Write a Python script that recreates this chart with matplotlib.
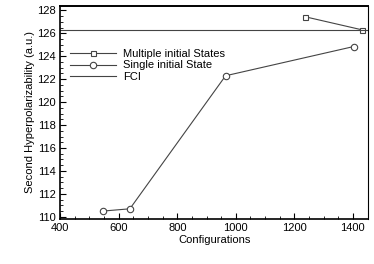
import matplotlib
matplotlib.use("Agg")
import matplotlib.pyplot as plt
from matplotlib.ticker import MultipleLocator

# data
single_x = [545, 638, 965, 1403]
single_y = [110.5, 110.7, 122.3, 124.85]
multi_x = [1236, 1432]
multi_y = [127.45, 126.3]
fci = 126.3

plt.rcParams["font.family"] = ["Liberation Sans", "DejaVu Sans"]
plt.rcParams["font.size"] = 8

fig = plt.figure(figsize=(3.74, 2.64), dpi=100)
ax = fig.add_axes([0.161, 0.170, 0.824, 0.808])

lc = "#444444"
ax.plot(multi_x, multi_y, color=lc, lw=0.8, marker="s", ms=3.6,
        mfc="white", mec=lc, mew=0.8, label="Multiple initial States")
ax.plot(single_x, single_y, color=lc, lw=0.8, marker="o", ms=4.6,
        mfc="white", mec=lc, mew=0.8, label="Single initial State")
ax.axhline(fci, color=lc, lw=0.8, label="FCI")

ax.set_xlim(400, 1453)
ax.set_ylim(109.8, 128.4)
ax.xaxis.set_major_locator(MultipleLocator(200))
ax.xaxis.set_minor_locator(MultipleLocator(50))
ax.yaxis.set_major_locator(MultipleLocator(2))
ax.yaxis.set_minor_locator(MultipleLocator(0.5))
ax.tick_params(which="both", direction="in", top=False, right=False)
ax.tick_params(which="major", length=4, width=0.8, pad=3)
ax.tick_params(which="minor", length=2, width=0.6)

for s in ax.spines.values():
    s.set_linewidth(0.8)
ax.spines["top"].set_linewidth(1.4)
ax.spines["left"].set_linewidth(1.2)
ax.spines["bottom"].set_linewidth(1.2)

ax.set_xlabel("Configurations", labelpad=1)
ax.set_ylabel("Second Hyperpolarizability (a.u.)", labelpad=2)

ax.legend(loc="upper left", bbox_to_anchor=(0.005, 0.835), frameon=False,
          handlelength=4.2, handletextpad=0.6, labelspacing=0.15,
          borderaxespad=0.3)

fig.savefig("out.png", dpi=100)
